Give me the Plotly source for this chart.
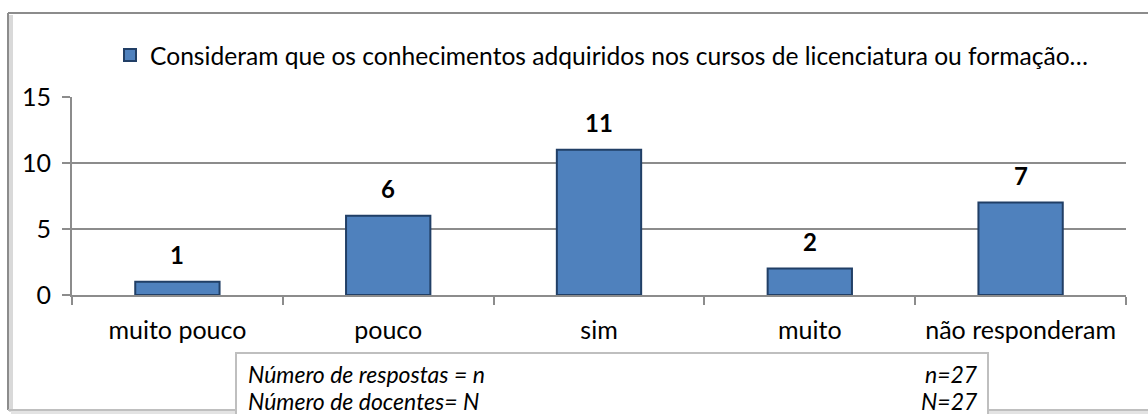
import plotly.graph_objects as go

categories = ["muito pouco", "pouco", "sim", "muito", "não responderam"]
values = [1, 6, 11, 2, 7]
series_name = "Consideram que os conhecimentos adquiridos nos cursos de licenciatura ou formação…"
y_ticks = [0, 5, 10, 15]
table_left = ["Número de respostas = n", "Número de docentes= N"]
table_right = ["n=27", "N=27"]

W, H = 1148, 414
L, R, T, B = 72, 1126, 97, 295  # plot area in pixels


def xp(px):
    return (px - L) / (R - L)


def yp(py):
    return (B - py) / (B - T)


FONT = "Lato"
GRID = "#8C8C8C"

fig = go.Figure()
fig.add_trace(go.Bar(
    x=categories, y=values, name=series_name,
    marker=dict(color="#4F81BD", line=dict(color="#213F66", width=2)),
    showlegend=True,
))

# data labels
for c, v in zip(categories, values):
    fig.add_annotation(x=c, y=v, text=f"<b>{v}</b>", showarrow=False,
                       yshift=27, yanchor="middle",
                       font=dict(family=FONT, size=24, color="#000000"))


def hline(x0, x1, y, color, width):
    return dict(type="line", xref="paper", yref="paper", x0=xp(x0), x1=xp(x1),
                y0=yp(y), y1=yp(y), line=dict(color=color, width=width), layer="below")


def vline(x, y0, y1, color, width):
    return dict(type="line", xref="paper", yref="paper", x0=xp(x), x1=xp(x),
                y0=yp(y0), y1=yp(y1), line=dict(color=color, width=width), layer="below")


shapes = [
    # outer chart border (left, top, bottom; the right side is outside the picture)
    vline(11, 15, 412, "#D9D9D9", 4),
    hline(11, 1148, 412, "#E3E3E3", 4),
    vline(8, 13, 410, "#8C8C8C", 2),
    hline(8, 1148, 13, "#8C8C8C", 2),
    hline(8, 1148, 410, "#BFBFBF", 2),
    # table box
    dict(type="rect", xref="paper", yref="paper",
         x0=xp(236), x1=xp(988), y0=yp(416), y1=yp(353),
         line=dict(color="#BFBFBF", width=2), fillcolor="white"),
]

ann_y = [374, 401]
for i in range(2):
    fig.add_annotation(xref="paper", yref="paper", x=xp(246), y=yp(ann_y[i]),
                       xanchor="left", yanchor="middle", showarrow=False,
                       text=f"<i>{table_left[i]}</i>",
                       font=dict(family=FONT, size=23, color="#000000"))
    fig.add_annotation(xref="paper", yref="paper", x=xp(980), y=yp(ann_y[i]),
                       xanchor="right", yanchor="middle", showarrow=False,
                       text=f"<i>{table_right[i]}</i>",
                       font=dict(family=FONT, size=23, color="#000000"))

fig.update_layout(
    width=W, height=H, autosize=False,
    margin=dict(l=L, r=W - R, t=T, b=H - B, pad=0, autoexpand=False),
    paper_bgcolor="white", plot_bgcolor="white",
    font=dict(family=FONT, size=25, color="#000000"),
    bargap=0.6,
    shapes=shapes,
    legend=dict(orientation="h", x=xp(110), y=yp(55), xanchor="left", yanchor="middle",
                font=dict(family=FONT, size=24.6, color="#000000"),
                bgcolor="rgba(0,0,0,0)"),
    xaxis=dict(showline=True, linecolor=GRID, linewidth=2, ticks="outside",
               tickson="boundaries", ticklen=8, tickcolor=GRID, tickwidth=2,
               showgrid=False, ticklabelstandoff=12, fixedrange=True),
    yaxis=dict(range=[0, 15], tickvals=y_ticks, showgrid=True, gridcolor=GRID,
               gridwidth=2, showline=True, linecolor=GRID, linewidth=2,
               ticks="outside", ticklen=8, tickcolor=GRID, tickwidth=2,
               zeroline=False, ticklabelstandoff=6, fixedrange=True),
)

fig.write_html("out.html", config={"displayModeBar": False},
               post_script="document.body.style.margin='0px';document.body.style.overflow='hidden';")
